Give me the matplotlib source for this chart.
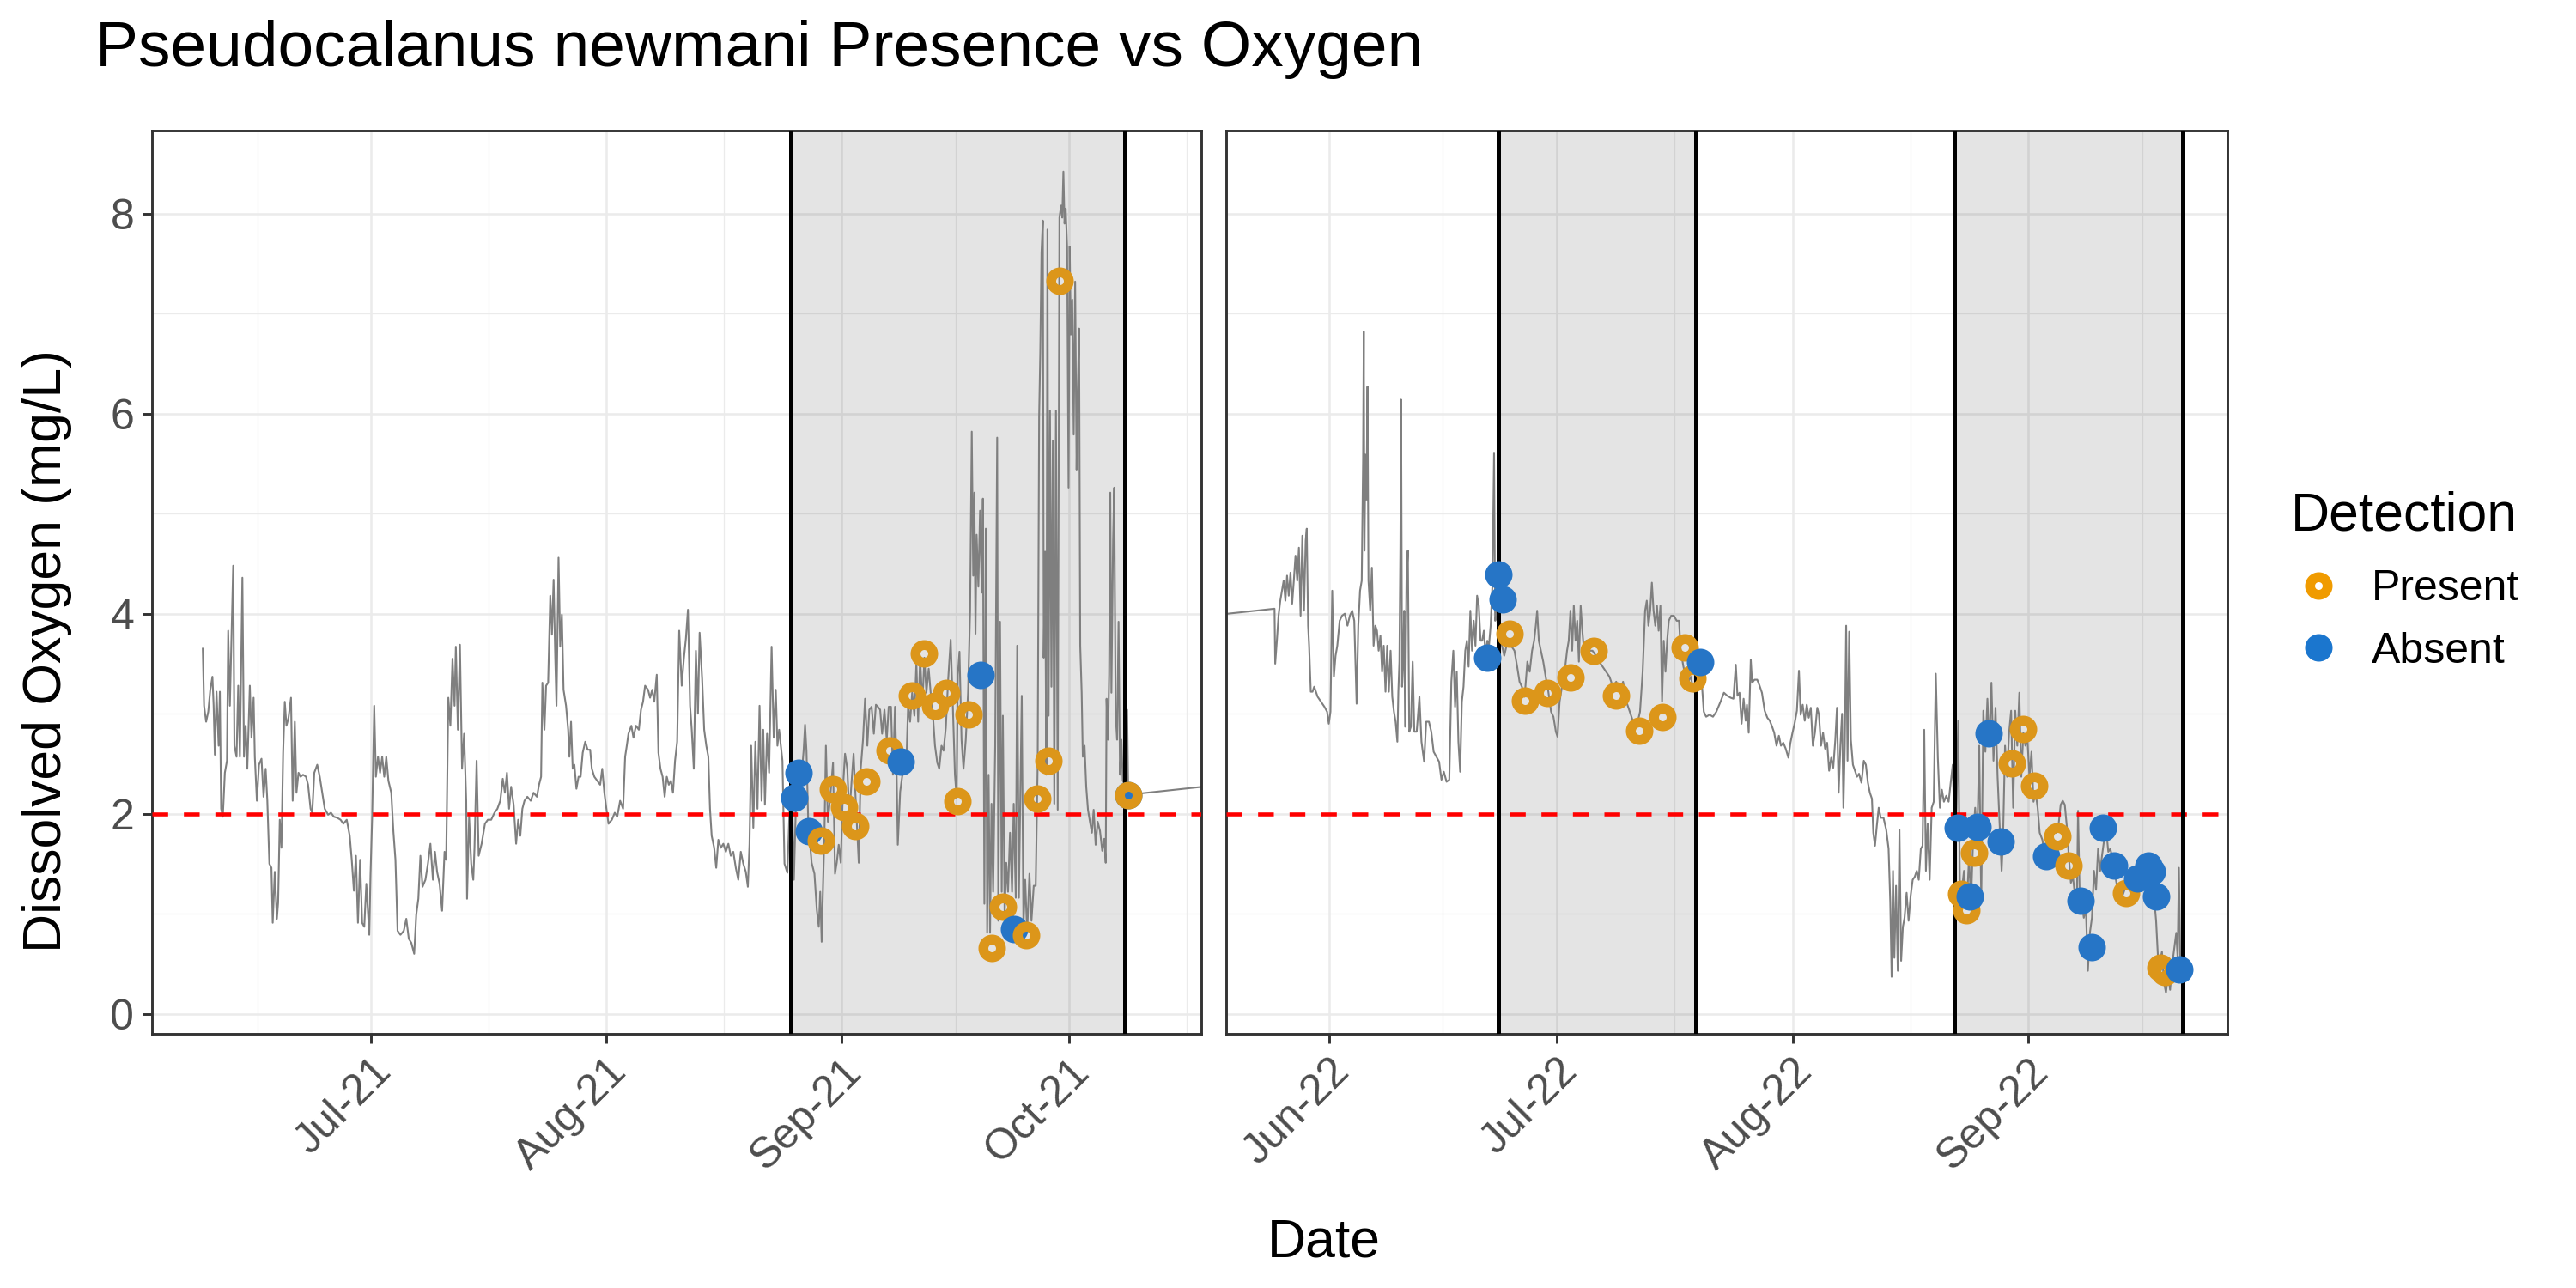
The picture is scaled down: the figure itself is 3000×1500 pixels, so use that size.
import numpy as np
import matplotlib
matplotlib.use("Agg")
import matplotlib.pyplot as plt
import matplotlib.dates as mdates
from matplotlib.lines import Line2D

plt.rcParams['font.family'] = ['Liberation Sans', 'DejaVu Sans']

# ---- dissolved oxygen record, 2021 (days after 2021-06-01, mg/L) ----
do21_day = [
    7.78, 7.95, 8.22, 8.50, 8.77, 9.05, 9.21, 9.37, 9.59, 9.87, 10.03, 10.20, 10.42, 10.69, 10.97,
    11.13, 11.35, 11.79, 11.95, 12.23, 12.45, 12.67, 13.00, 13.21, 13.43, 13.65, 13.98, 14.20, 14.48,
    14.64, 14.91, 15.19, 15.52, 15.79, 16.07, 16.29, 16.56, 16.83, 17.00, 17.27, 17.55, 17.71, 17.93,
    18.15, 18.37, 18.59, 18.81, 19.08, 19.41, 19.63, 19.91, 20.13, 20.40, 20.67, 21.00, 21.39, 21.66,
    21.99, 22.21, 22.48, 22.87, 23.20, 23.53, 23.86, 24.30, 24.68, 25.06, 25.50, 25.94, 26.32, 26.76,
    27.15, 27.42, 27.70, 27.97, 28.24, 28.52, 28.79, 29.07, 29.34, 29.73, 29.89, 30.11, 30.38, 30.60,
    30.88, 31.15, 31.43, 31.70, 31.97, 32.25, 32.63, 32.91, 33.18, 33.46, 33.84, 34.28, 34.61, 34.94,
    35.27, 35.65, 35.92, 36.20, 36.47, 36.75, 37.13, 37.46, 37.79, 38.12, 38.39, 38.67, 39.00, 39.33,
    39.65, 39.87, 40.15, 40.42, 40.70, 40.97, 41.14, 41.41, 41.68, 41.96, 42.23, 42.51, 42.62, 42.89,
    43.17, 43.44, 43.60, 43.88, 44.15, 44.54, 44.98, 45.36, 45.80, 46.24, 46.62, 47.00, 47.33, 47.61,
    47.88, 48.16, 48.43, 48.76, 49.09, 49.36, 49.64, 49.91, 50.19, 50.57, 51.01, 51.39, 51.83, 52.11,
    52.38, 52.55, 52.82, 53.04, 53.31, 53.59, 53.81, 54.03, 54.25, 54.41, 54.68, 54.90, 55.12, 55.34,
    55.67, 55.95, 56.11, 56.33, 56.55, 56.77, 57.04, 57.32, 57.59, 57.87, 58.20, 58.52, 58.85, 59.07,
    59.40, 59.79, 60.17, 60.44, 60.72, 60.99, 61.27, 61.71, 62.09, 62.42, 62.80, 63.19, 63.46, 63.68,
    63.90, 64.28, 64.56, 64.89, 65.27, 65.55, 65.82, 66.09, 66.48, 66.75, 67.03, 67.30, 67.63, 67.85,
    68.12, 68.40, 68.67, 68.95, 69.22, 69.50, 69.77, 70.04, 70.32, 70.59, 70.92, 71.20, 71.47, 71.74,
    72.02, 72.24, 72.51, 72.79, 73.06, 73.28, 73.61, 73.88, 74.16, 74.43, 74.65, 74.87, 75.20, 75.47,
    75.75, 76.08, 76.41, 76.74, 77.07, 77.39, 77.72, 78.05, 78.38, 78.71, 79.04, 79.37, 79.64, 79.86,
    80.08, 80.36, 80.63, 80.91, 81.18, 81.45, 81.67, 81.89, 82.17, 82.44, 82.77, 83.05, 83.32, 83.54,
    83.76, 84.20, 84.47, 84.85, 85.11, 85.41, 85.71, 85.98, 86.35, 86.73, 86.99, 87.18, 87.37, 87.60,
    88.05, 88.42, 88.73, 88.99, 89.18, 89.37, 89.55, 89.74, 89.93, 90.19, 90.49, 90.87, 91.13, 91.36,
    91.62, 91.89, 92.19, 92.45, 92.75, 93.02, 93.32, 93.58, 93.88, 94.26, 94.52, 94.82, 95.09, 95.39,
    95.65, 95.95, 96.25, 96.52, 96.78, 97.08, 97.34, 97.65, 97.95, 98.21, 98.51, 98.77, 99.04, 99.23,
    99.41, 99.72, 100.02, 100.28, 100.54, 100.77, 101.03, 101.30, 101.60, 101.86, 102.09, 102.35,
    102.65, 102.91, 103.18, 103.48, 103.74, 104.04, 104.31, 104.61, 104.87, 105.17, 105.44, 105.74,
    106.04, 106.38, 106.68, 106.94, 107.17, 107.32, 107.54, 107.81, 108.07, 108.37, 108.67, 108.94,
    109.16, 109.35, 109.50, 109.65, 109.80, 110.03, 110.25, 110.48, 110.63, 110.82, 111.01, 111.19,
    111.38, 111.57, 111.76, 111.98, 112.25, 112.51, 112.66, 112.89, 113.11, 113.26, 113.49, 113.71,
    113.94, 114.20, 114.47, 114.69, 114.96, 115.15, 115.37, 115.60, 115.75, 115.97, 116.20, 116.46,
    116.76, 117.03, 117.33, 117.59, 117.85, 118.04, 118.19, 118.35, 118.53, 118.65, 118.83, 118.99,
    119.14, 119.29, 119.47, 119.66, 119.85, 120.04, 120.26, 120.49, 120.72, 120.94, 121.09, 121.24,
    121.39, 121.54, 121.73, 121.92, 122.07, 122.22, 122.41, 122.60, 122.79, 122.98, 123.13, 123.31,
    123.46, 123.65, 123.80, 124.03, 124.25, 124.48, 124.74, 125.00, 125.23, 125.49, 125.76, 126.06,
    126.36, 126.63, 126.82, 126.93, 127.12, 127.27, 127.42, 127.57, 127.79, 127.94, 128.13, 128.32,
    128.51, 128.70, 128.89, 129.07, 129.45, 129.64, 129.79,
]
do21_val = [
    3.65, 3.08, 2.92, 3.02, 3.24, 3.37, 3.08, 2.59, 3.22, 2.68, 3.22, 2.05, 1.97, 2.41, 2.53,
    3.83, 3.08, 4.48, 2.68, 2.57, 3.28, 2.57, 4.36, 2.57, 2.88, 2.45, 3.28, 2.76, 3.16,
    2.57, 2.13, 2.49, 2.55, 2.17, 2.45, 2.13, 1.50, 1.46, 0.91, 1.42, 0.95, 1.11, 1.94,
    1.66, 2.61, 3.12, 2.88, 2.96, 3.16, 2.13, 2.92, 2.21, 2.41, 2.37, 2.39, 2.37, 2.29,
    2.05, 2.01, 2.41, 2.49, 2.37, 2.21, 2.05, 1.99, 2.01, 1.97, 1.96, 1.94, 1.90, 1.94,
    1.78, 1.54, 1.23, 1.58, 0.91, 1.54, 0.91, 0.87, 1.30, 0.79, 1.38, 1.97, 3.08, 2.37,
    2.57, 2.41, 2.57, 2.37, 2.57, 2.33, 2.21, 1.82, 1.54, 0.83, 0.79, 0.83, 0.95, 0.75,
    0.71, 0.60, 0.99, 1.15, 1.58, 1.27, 1.34, 1.50, 1.70, 1.34, 1.62, 1.42, 1.30, 1.03,
    1.62, 1.54, 3.16, 2.88, 3.55, 3.08, 3.67, 2.84, 3.69, 2.45, 2.80, 2.13, 1.15, 1.97,
    1.50, 1.34, 1.66, 2.53, 1.58, 1.70, 1.90, 1.94, 1.94, 2.01, 2.05, 2.13, 2.35, 2.21,
    2.41, 2.05, 2.27, 2.09, 1.70, 1.94, 1.78, 2.05, 2.13, 2.17, 2.13, 2.21, 2.17, 2.29,
    2.37, 3.31, 2.84, 3.28, 3.31, 4.18, 3.79, 4.34, 3.55, 3.08, 4.56, 3.67, 3.99, 3.24,
    3.08, 2.84, 2.57, 2.92, 2.45, 2.49, 2.25, 2.37, 2.37, 2.61, 2.72, 2.64, 2.64, 2.45,
    2.37, 2.33, 2.29, 2.45, 2.21, 2.05, 1.90, 1.94, 2.01, 1.97, 2.13, 2.05, 2.57, 2.68,
    2.80, 2.88, 2.76, 2.88, 2.84, 3.04, 3.12, 3.28, 3.24, 3.16, 3.24, 3.12, 3.39, 2.61,
    2.45, 2.37, 2.17, 2.37, 2.29, 2.33, 2.21, 2.53, 2.72, 3.83, 3.28, 3.55, 3.75, 4.04,
    3.08, 2.84, 2.45, 3.63, 3.00, 3.81, 3.35, 2.84, 2.68, 2.57, 2.05, 1.78, 1.66, 1.46,
    1.74, 1.66, 1.70, 1.62, 1.70, 1.58, 1.62, 1.46, 1.34, 1.62, 1.50, 1.42, 1.27, 1.70,
    2.68, 1.86, 2.72, 2.05, 3.08, 2.13, 2.84, 2.09, 2.80, 2.41, 3.67, 2.76, 3.24, 2.68,
    2.84, 2.53, 1.50, 1.41, 1.98, 2.39, 1.34, 2.10, 2.51, 2.39, 2.63, 2.89, 2.63, 1.92,
    1.51, 1.40, 1.04, 0.87, 1.22, 0.72, 1.28, 1.81, 2.68, 1.92, 2.16, 2.51, 1.40, 1.51,
    1.69, 1.51, 2.27, 2.60, 2.45, 1.98, 2.33, 2.60, 2.10, 1.51, 2.45, 2.74, 3.15, 2.68,
    3.04, 3.07, 2.80, 3.09, 3.07, 3.04, 2.80, 3.04, 2.74, 3.07, 3.07, 2.39, 3.07, 2.51,
    1.69, 2.22, 2.39, 2.63, 2.51, 3.09, 2.92, 3.21, 2.98, 3.51, 2.92, 3.56,
    3.09, 3.56, 3.21, 3.45, 3.21, 2.98, 2.68, 2.51, 2.45, 2.68, 2.63, 2.86,
    3.33, 3.74, 3.04, 2.39, 2.16, 3.39, 3.62, 2.74, 2.45, 2.74, 3.21, 4.03,
    5.82, 4.38, 5.21, 3.80, 4.79, 4.27, 5.03, 4.21, 5.15, 1.10, 4.85, 0.81,
    2.39, 0.81, 2.10, 1.22, 2.68, 5.76, 0.93, 3.92, 1.22, 2.98, 0.98, 1.51,
    1.22, 1.81, 1.22, 2.10, 1.16, 3.68, 1.16, 2.39, 3.18, 0.87, 1.34, 0.81,
    1.40, 0.93, 1.28, 1.28, 2.51, 5.97, 6.61, 7.61, 7.93, 3.56, 4.62, 2.39,
    7.84, 2.98, 6.03, 3.27, 5.73, 2.10, 6.03, 2.04, 7.96, 8.08, 7.96, 8.42,
    7.90, 8.05, 7.67, 5.26, 7.67, 6.79, 7.14, 5.79, 7.32, 5.44, 6.20, 6.85,
    3.68, 3.21, 2.57, 2.68, 2.27, 2.04, 1.92, 1.81, 2.04, 1.69, 1.92, 1.83,
    1.63, 1.75, 1.51, 3.15, 2.74, 3.39, 5.21, 3.21, 4.74, 5.26, 2.98, 2.74,
    3.92, 2.39, 2.74, 2.33, 2.27, 3.04, 2.19,
]

# ---- dissolved oxygen record, 2022 (days after 2022-06-01, mg/L) ----
do22_day = [
    -7.14, -7.05, -6.83, -6.61, -6.38, -6.16, -5.94, -5.71, -5.49, -5.27, -5.04, -4.82, -4.60, -4.38,
    -4.15, -3.93, -3.71, -3.48, -3.26, -3.04, -2.90, -2.72, -2.59, -2.37, -2.14, -1.92, -1.47, -1.03,
    -0.58, -0.22, 0.00, 0.22, 0.45, 0.67, 0.89, 1.12, 1.43, 1.74, 2.10, 2.46, 2.77, 3.08, 3.35, 3.66,
    3.88, 4.11, 4.33, 4.51, 4.60, 4.69, 4.82, 4.96, 5.09, 5.22, 5.45, 5.67, 5.89, 6.12, 6.34, 6.56,
    6.79, 7.01, 7.23, 7.46, 7.68, 7.90, 8.13, 8.35, 8.57, 8.79, 9.02, 9.15, 9.29, 9.42, 9.51, 9.64,
    9.78, 9.91, 10.04, 10.22, 10.40, 10.58, 10.80, 11.03, 11.25, 11.56, 11.92, 12.19, 12.54, 12.81,
    13.17, 13.48, 13.79, 14.15, 14.51, 14.82, 15.13, 15.49, 15.85, 16.12, 16.38, 16.61, 16.83, 17.05,
    17.28, 17.50, 17.72, 17.95, 18.17, 18.39, 18.62, 18.84, 19.06, 19.29, 19.51, 19.73, 19.96, 20.18,
    20.40, 20.63, 20.85, 21.07, 21.29, 21.52, 21.74, 21.88, 22.10, 22.32, 22.63, 23.08, 23.53, 23.97,
    24.42, 24.78, 25.09, 25.40, 25.76, 26.12, 26.43, 26.74, 27.01, 27.23, 27.41, 27.63, 27.90, 28.21,
    28.53, 28.88, 29.24, 29.55, 29.87, 30.09, 30.36, 30.67, 31.03, 31.34, 31.56, 31.79, 32.01, 32.23,
    32.46, 32.68, 32.90, 33.13, 33.35, 33.57, 33.88, 34.24, 34.69, 35.13, 35.58, 36.03, 36.47, 36.92,
    37.37, 37.81, 38.26, 38.71, 39.15, 39.60, 40.04, 40.49, 40.94, 41.29, 41.61, 41.83, 42.05, 42.28,
    42.50, 42.72, 42.95, 43.17, 43.39, 43.62, 43.84, 44.06, 44.29, 44.51, 44.73, 45.04, 45.40, 45.76,
    46.07, 46.29, 46.65, 46.96, 47.28, 47.63, 47.99, 48.30, 48.75, 49.06, 49.33, 49.64, 50.09, 50.54,
    50.98, 51.53, 51.98, 52.42, 52.87, 53.23, 53.54, 53.76, 54.03, 54.30, 54.57, 54.84, 55.01, 55.24,
    55.51, 55.69, 56.00, 56.36, 56.67, 56.98, 57.34, 57.69, 58.01, 58.32, 58.59, 58.90, 59.21, 59.48,
    59.79, 60.11, 60.46, 60.73, 61.00, 61.27, 61.58, 61.85, 62.07, 62.34, 62.61, 62.88, 63.14, 63.41,
    63.68, 63.95, 64.26, 64.48, 64.75, 65.02, 65.29, 65.56, 65.82, 66.09, 66.36, 66.63, 66.85, 67.07,
    67.30, 67.52, 67.70, 67.88, 68.06, 68.24, 68.46, 68.68, 68.95, 69.22, 69.49, 69.75, 70.07, 70.38,
    70.65, 70.92, 71.18, 71.45, 71.63, 71.85, 72.08, 72.34, 72.61, 72.97, 73.33, 73.64, 73.86, 74.04,
    74.22, 74.40, 74.62, 74.85, 75.07, 75.29, 75.52, 75.74, 76.01, 76.27, 76.54, 76.81, 77.08, 77.35,
    77.61, 77.88, 78.11, 78.33, 78.55, 78.78, 79.04, 79.31, 79.58, 79.85, 80.12, 80.39, 80.65, 80.92,
    81.23, 81.54, 81.81, 82.08, 82.35, 82.57, 82.80, 83.02, 83.24, 83.56, 83.91, 84.22, 84.49, 84.76,
    85.03, 85.30, 85.56, 85.83, 86.10, 86.37, 86.64, 86.90, 87.17, 87.44, 87.71, 87.98, 88.24, 88.51,
    88.69, 88.96, 89.23, 89.49, 89.76, 90.03, 90.30, 90.57, 90.84, 91.10, 91.37, 91.64, 91.91, 92.17,
    92.44, 92.71, 92.98, 93.25, 93.52, 93.87, 94.23, 94.59, 94.94, 95.30, 95.66, 95.97, 96.28, 96.55,
    96.82, 97.09, 97.36, 97.62, 97.89, 98.16, 98.43, 98.56, 98.78, 99.05, 99.32, 99.59, 99.86, 100.12,
    100.39, 100.66, 100.93, 101.20, 101.47, 101.73, 102.00, 102.27, 102.54, 102.81, 103.07, 103.34,
    103.61, 103.88, 104.14, 104.41, 104.68, 104.95, 105.22, 105.57, 105.93, 106.29, 106.65, 107.00,
    107.36, 107.72, 108.08, 108.34, 108.61, 108.83, 109.06, 109.33, 109.60, 109.87, 110.13, 110.40,
    110.67, 110.94, 111.21, 111.48, 111.66, 111.83, 112.01,
]
do22_val = [
    4.05, 3.50, 3.73, 3.98, 4.13, 4.23, 4.33, 4.13, 4.38, 4.18, 4.41, 4.10, 4.33, 4.58,
    4.33, 4.66, 3.98, 4.78, 4.03, 4.73, 4.85, 3.88, 3.68, 3.22, 3.22, 3.27, 3.17, 3.12,
    3.07, 3.02, 2.90, 3.02, 4.23, 3.37, 3.58, 3.68, 3.93, 3.98, 4.00, 3.88, 3.98, 4.03, 3.93, 3.10,
    3.88, 4.23, 4.33, 5.54, 6.82, 4.63, 5.59, 5.14, 6.27, 4.33, 4.03, 4.46, 3.68, 3.88, 3.83, 3.63,
    3.78, 3.42, 3.68, 3.22, 3.68, 3.22, 3.63, 3.17, 3.02, 2.92, 2.72, 3.22, 3.52, 4.68, 6.14, 3.27,
    3.52, 4.03, 2.87, 4.33, 4.63, 2.82, 2.87, 3.52, 2.82, 2.82, 3.17, 2.72, 2.52, 2.92,
    2.92, 2.82, 2.62, 2.57, 2.52, 2.34, 2.42, 2.32, 2.34, 3.32, 3.63, 3.07, 3.42, 2.72,
    2.42, 3.12, 3.27, 3.63, 3.73, 3.47, 4.03, 3.63, 3.93, 3.68, 4.18, 4.08, 3.73, 3.73,
    3.83, 3.58, 3.73, 3.68, 3.88, 4.28, 5.61, 3.93, 4.03, 3.73, 3.73, 3.58, 3.73, 3.68,
    3.63, 3.47, 3.32, 3.27, 3.17, 3.52, 3.42, 3.63, 3.73, 3.88, 4.03, 3.73, 3.63, 3.52,
    3.37, 3.22, 3.02, 2.97, 2.82, 2.77, 3.12, 3.27, 3.42, 3.63, 3.73, 4.03, 3.63, 4.08,
    3.73, 3.93, 3.52, 4.08, 3.83, 3.63, 3.73, 3.63, 3.63, 3.58, 3.52, 3.47, 3.42, 3.37,
    3.27, 3.32, 3.22, 3.32, 3.12, 3.02, 2.92, 2.87, 3.02, 3.42, 4.03, 4.13, 3.88, 4.03,
    4.31, 4.03, 3.88, 4.08, 3.83, 4.08, 3.12, 3.73, 3.42, 3.73, 3.93, 3.98, 3.98, 3.93,
    3.93, 3.63, 3.47, 3.37, 3.32, 3.37, 3.22, 3.32, 3.42, 3.32, 3.02, 2.97, 2.99, 2.97,
    3.02, 3.12, 3.21, 3.18, 3.16, 3.15, 3.49, 3.18, 3.21, 2.90, 3.15, 2.93, 3.09, 2.81,
    3.54, 3.31, 3.34, 3.34, 3.28, 3.21, 3.03, 2.96, 2.93, 2.87, 2.81, 2.68, 2.78, 2.68,
    2.71, 2.65, 2.56, 2.71, 2.81, 2.90, 3.03, 3.43, 2.99, 3.09, 2.93, 3.09, 2.96, 3.06,
    2.68, 2.81, 3.06, 2.99, 2.68, 2.81, 2.65, 2.71, 2.43, 2.56, 2.46, 2.74, 3.06, 2.21,
    2.68, 3.00, 2.06, 2.68, 3.88, 2.53, 3.82, 2.74, 2.49, 2.43, 2.37, 2.40, 2.31, 2.53,
    2.49, 2.31, 2.21, 2.15, 1.81, 1.68, 1.87, 2.06, 1.96, 1.96, 1.84, 1.65, 1.12, 0.37,
    1.43, 0.56, 1.28, 0.43, 1.84, 0.53, 0.87, 0.96, 1.21, 0.93, 1.18, 1.34, 1.37, 1.43,
    1.34, 1.65, 1.68, 2.84, 1.43, 1.90, 1.34, 2.06, 2.12, 3.40, 2.56, 2.06, 2.24, 2.12,
    2.18, 2.12, 2.31, 2.49, 1.74, 2.06, 2.93, 1.28, 1.21, 1.43, 1.06, 1.56, 1.12, 1.74,
    2.06, 1.74, 2.68, 1.12, 3.03, 2.62, 3.15, 2.68, 3.31, 2.53, 3.06, 2.37, 1.90, 1.43,
    1.74, 2.68, 2.37, 2.81, 3.03, 2.06, 3.03, 2.68, 3.21, 2.37, 2.81, 2.68, 2.74, 2.37,
    2.62, 2.12, 2.21, 2.06, 1.81, 1.74, 1.56, 1.59, 1.74, 1.84, 1.81, 1.87, 2.09, 2.13,
    2.09, 1.87, 1.56, 1.31, 1.37, 1.18, 1.24, 2.03, 1.18, 1.12, 0.96, 1.06, 0.43, 0.81,
    0.96, 1.43, 1.24, 1.65, 1.43, 1.59, 1.74, 1.84, 1.62, 1.65, 1.56, 1.43,
    1.31, 1.24, 1.28, 1.18, 1.24, 1.31, 1.24, 1.31, 1.37, 1.43, 1.46, 1.49,
    1.53, 1.49, 1.43, 1.34, 1.12, 0.93, 0.59, 0.53, 0.62, 0.31, 0.21, 0.40,
    0.24, 0.49, 0.65, 0.81, 0.56, 1.46, 0.49,
]

# ---- plankton samples ----
samp21_day = [85.71, 86.28, 87.67, 89.29, 90.80, 92.30, 93.81, 95.31, 98.29, 99.83, 101.30, 102.80,
              104.31, 105.81, 107.28, 108.79, 110.29, 111.80, 113.30, 114.77, 116.27, 117.78, 119.28,
              120.79, 129.79, 129.79]
samp21_val = [2.16, 2.41, 1.83, 1.73, 2.25, 2.07, 1.88, 2.32, 2.63, 2.52, 3.18, 3.60,
              3.08, 3.21, 2.13, 2.99, 3.39, 0.66, 1.07, 0.85, 0.79, 2.15, 2.53,
              7.33, 2.19, 2.19]
samp21_det = ['Absent', 'Absent', 'Absent', 'Present', 'Present', 'Present', 'Present', 'Present',
              'Present', 'Absent', 'Present', 'Present', 'Present', 'Present', 'Present', 'Present',
              'Absent', 'Present', 'Present', 'Absent', 'Present', 'Present', 'Present', 'Present',
              'Absent', 'Present']

samp22_day = [20.85, 22.28, 22.86, 23.79, 25.76, 28.79, 31.83, 34.82, 37.81, 40.85, 43.84, 46.83,
              47.86, 48.84, 82.71, 83.24, 83.82, 84.36, 84.85, 85.39, 86.82, 88.38, 89.85, 91.37,
              92.84, 94.32, 95.84, 97.36, 98.87, 100.35, 101.87, 103.34, 104.86, 106.38, 107.81,
              108.25, 108.83, 109.37, 109.95, 111.83]
samp22_val = [3.56, 4.39, 4.14, 3.80, 3.13, 3.21, 3.36, 3.63, 3.18, 2.83, 2.97, 3.66,
              3.35, 3.52, 1.86, 1.20, 1.04, 1.17, 1.61, 1.87, 2.80, 1.72, 2.50, 2.85,
              2.28, 1.58, 1.77, 1.48, 1.13, 0.67, 1.86, 1.48, 1.21, 1.35, 1.48,
              1.42, 1.17, 0.46, 0.42, 0.44]
samp22_det = ['Absent', 'Absent', 'Absent', 'Present', 'Present', 'Present', 'Present', 'Present',
              'Present', 'Present', 'Present', 'Present', 'Present', 'Absent', 'Absent', 'Present',
              'Present', 'Absent', 'Present', 'Absent', 'Absent', 'Absent', 'Present', 'Present',
              'Present', 'Absent', 'Present', 'Present', 'Absent', 'Absent', 'Absent', 'Absent',
              'Present', 'Absent', 'Absent', 'Absent', 'Absent', 'Present', 'Present', 'Absent']

# sampling periods (shaded) and panel ranges
periods21 = [('2021-08-25T08:00', '2021-10-08T07:00')]
periods22 = [('2022-06-23T07:00', '2022-07-19T07:00'), ('2022-08-22T08:00', '2022-09-21T09:00')]
xlim21 = ('2021-06-02T02:00', '2021-10-18T10:00')
xlim22 = ('2022-05-18T12:00', '2022-09-27T05:00')

ticks21 = ['2021-07-01', '2021-08-01', '2021-09-01', '2021-10-01']
tick_labels21 = ['Jul-21', 'Aug-21', 'Sep-21', 'Oct-21']
ticks22 = ['2022-06-01', '2022-07-01', '2022-08-01', '2022-09-01']
tick_labels22 = ['Jun-22', 'Jul-22', 'Aug-22', 'Sep-22']

threshold = 2.0
title = 'Pseudocalanus newmani Presence vs Oxygen'


def to_dates(base, days):
    secs = np.round(np.asarray(days) * 86400).astype('int64')
    return np.datetime64(base) + secs.astype('timedelta64[s]')


t_all = np.concatenate([to_dates('2021-06-01', do21_day), to_dates('2022-06-01', do22_day)])
v_all = np.concatenate([do21_val, do22_val])

pts21 = (to_dates('2021-06-01', samp21_day), samp21_val, samp21_det)
pts22 = (to_dates('2022-06-01', samp22_day), samp22_val, samp22_det)

col_present = '#DC961A'
col_absent = '#2675C6'
W, H = 3000, 1500

fig = plt.figure(figsize=(10, 5), dpi=300)
bottom = 1 - 1204 / H
height = (1204 - 152) / H
axL = fig.add_axes([177 / W, bottom, (1399 - 177) / W, height])
axR = fig.add_axes([1428 / W, bottom, (2594 - 1428) / W, height])


def mid_months(lo, hi):
    starts = np.arange(np.datetime64(lo, 'M') - 1, np.datetime64(hi, 'M') + 2).astype('datetime64[D]')
    nums = mdates.date2num(starts)
    return (nums[:-1] + nums[1:]) / 2


for ax, periods, lim, ticks, labels, pts in [
        (axL, periods21, xlim21, ticks21, tick_labels21, pts21),
        (axR, periods22, xlim22, ticks22, tick_labels22, pts22)]:
    ax.set_axisbelow(True)
    for s, e in periods:
        ax.axvspan(np.datetime64(s), np.datetime64(e), color='black', alpha=0.105, lw=0, zorder=1)
    ax.plot(t_all, v_all, color='#7F7F7F', lw=0.5, zorder=2)
    ax.axhline(threshold, color='red', lw=1.1, ls=(0, (4, 4)), zorder=3)
    for s, e in periods:
        ax.axvline(np.datetime64(s), color='black', lw=1.2, zorder=4)
        ax.axvline(np.datetime64(e), color='black', lw=1.2, zorder=4)
    for d, v, det in zip(*pts):
        if det == 'Present':
            ax.plot([d], [v], marker='o', ms=4.92, mew=2.76, mfc='none', mec=col_present,
                    ls='none', zorder=5)
        else:
            ax.plot([d], [v], marker='o', ms=7.68, mew=0, mfc=col_absent, ls='none', zorder=5)

    ax.set_xticks([np.datetime64(t) for t in ticks], labels, rotation=45, ha='right',
                  rotation_mode='anchor')
    ax.set_xticks(mid_months(lim[0], lim[1]), minor=True)
    ax.set_yticks([0, 2, 4, 6, 8])
    ax.set_yticks([1, 3, 5, 7], minor=True)
    # limits after the ticks, since set_xticks can widen the view
    ax.set_xlim(np.datetime64(lim[0]), np.datetime64(lim[1]))
    ax.set_ylim(-0.2, 8.83)
    ax.grid(which='major', color='#EBEBEB', lw=0.62)
    ax.grid(which='minor', color='#EBEBEB', lw=0.31)
    ax.tick_params(which='major', length=2.75, width=0.7, color='#333333',
                   labelsize=12, labelcolor='#4D4D4D', pad=2.2)
    ax.tick_params(which='minor', length=0)
    for sp in ax.spines.values():
        sp.set_color('#333333')
        sp.set_linewidth(0.7)

axR.tick_params(axis='y', which='both', left=False, labelleft=False)

fig.text(111 / W, 1 - 77 / H, title, fontsize=18, ha='left', va='baseline')
fig.text(1542 / W, 1 - 1463 / H, 'Date', fontsize=15, ha='center', va='baseline')
fig.text(55 / W, 1 - 758 / H, 'Dissolved Oxygen (mg/L)', fontsize=15, rotation=90,
         ha='center', va='center')

# legend
fig.text(2668 / W, 1 - 617 / H, 'Detection', fontsize=15, ha='left', va='baseline')
fig.add_artist(Line2D([2700 / W], [1 - 682 / H], transform=fig.transFigure, marker='o',
                      ms=4.92, mew=2.76, mfc='none', mec='#F09B00', ls='none'))
fig.add_artist(Line2D([2700 / W], [1 - 754 / H], transform=fig.transFigure, marker='o',
                      ms=7.68, mew=0, mfc='#1B76CE', ls='none'))
fig.text(2762 / W, 1 - 699 / H, 'Present', fontsize=12, ha='left', va='baseline')
fig.text(2762 / W, 1 - 772 / H, 'Absent', fontsize=12, ha='left', va='baseline')

fig.savefig('out.png', dpi=300)
